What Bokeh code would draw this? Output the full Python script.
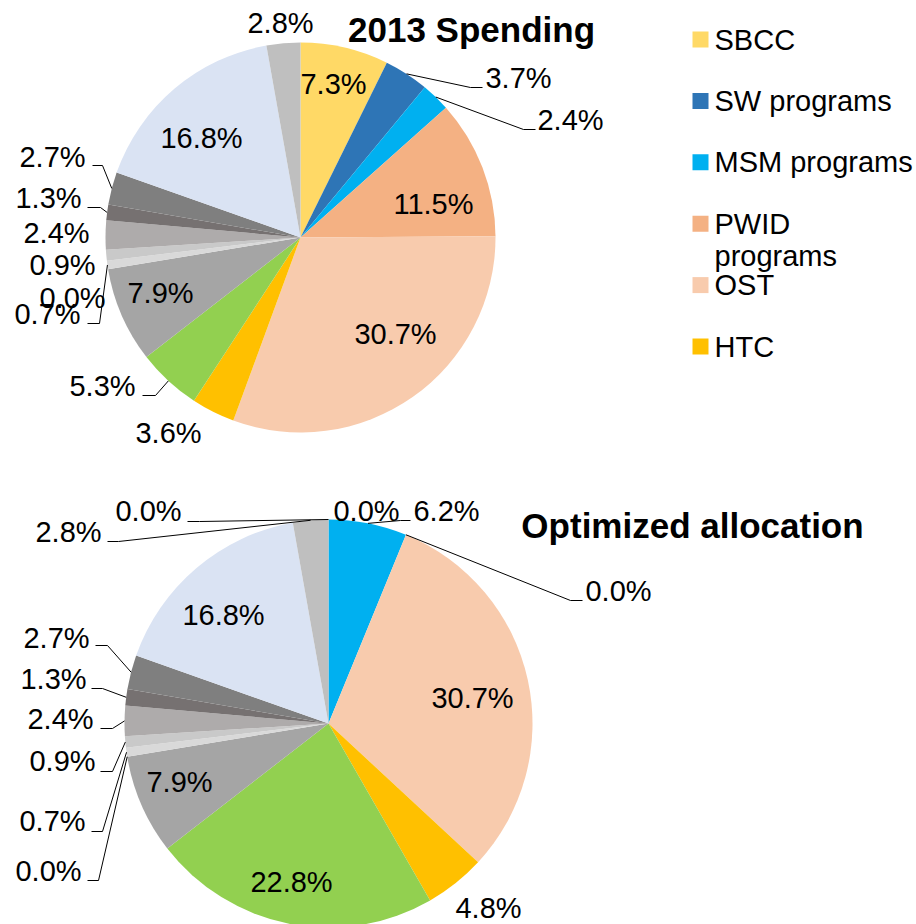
import math
from bokeh.plotting import figure
from bokeh.models import ColumnDataSource, Range1d
from bokeh.core.properties import value
from bokeh.embed import file_html
from bokeh.resources import INLINE

# ---------------- data ----------------
categories = ["SBCC", "SW programs", "MSM programs", "PWID programs", "OST", "HTC",
              "Category 7", "Category 8", "Category 9", "Category 10", "Category 11",
              "Category 12", "Category 13", "Category 14", "Category 15", "Category 16"]
spend_2013 = [7.3, 3.7, 2.4, 11.5, 30.7, 3.6, 5.3, 7.9, 0.0, 0.7, 0.9, 2.4, 1.3, 2.7, 16.8, 2.8]
optimized = [0.0, 0.0, 6.2, 0.0, 30.7, 4.8, 22.8, 7.9, 0.0, 0.7, 0.9, 2.4, 1.3, 2.7, 16.8, 2.8]
slice_colors = ["#FFD966", "#2E75B6", "#00B0F0", "#F4B183", "#F8CBAD", "#FFC000",
                "#92D050", "#A5A5A5", "#E7E6E6", "#D9D9D9", "#C9C9C9", "#AEABAB",
                "#767171", "#7F7F7F", "#DAE3F3", "#BFBFBF"]
titles = ["2013 Spending", "Optimized allocation"]
legend_count = 6

# ---------------- layout (image pixel coordinates) ----------------
W, H = 916, 924
FONT = "Liberation Sans"
LABEL_SIZE = "29px"
TITLE_SIZE = "35px"


def U(Y):
    return H - Y


# label centre per slice, and leader (label end, elbow) per slice index
pie1 = dict(cx=300, cy=237, r=195,
            labels=[(333, 83), (518, 77), (570, 119), (433, 203), (395, 333), (168, 432),
                    (102, 385), (160, 292), (72, 297), (47, 313), (62, 264), (56, 232),
                    (48, 197), (52, 156), (201, 137), (280, 22)],
            leaders={1: ((482, 87), (470, 87)), 2: ((535, 129), (523, 129)),
                     6: ((142, 395), (155, 395)), 9: ((87, 323), (99, 323)),
                     12: ((87, 207), (100, 207)), 13: ((92, 165), (102, 165))},
            title=(471, 29))
pie2 = dict(cx=328, cy=723, r=204,
            labels=[(148, 510), (366, 510), (446, 510), (618, 590), (472, 697), (488, 907),
                    (291, 881), (179, 781), (48, 870), (52, 820), (62, 760), (60, 718),
                    (53, 678), (56, 637), (223, 614), (68, 531)],
            leaders={0: ((187, 521), (199, 521)), 2: ((410, 520), (400, 520)),
                     3: ((582, 600), (570, 600)), 8: ((87, 880), (98, 880)),
                     9: ((91, 831), (102, 831)), 10: ((100, 771), (112, 771)),
                     11: ((100, 728), (112, 728)), 12: ((91, 688), (102, 688)),
                     13: ((95, 645), (107, 645)), 15: ((107, 541), (118, 541))},
            title=(692, 525))

p = figure(width=W, height=H, x_range=Range1d(0, W), y_range=Range1d(0, H),
           output_backend="svg", toolbar_location=None, min_border=0,
           x_axis_type=None, y_axis_type=None)
p.grid.visible = False
p.outline_line_color = None
p.background_fill_color = "white"
p.border_fill_color = "white"


def draw_pie(values, spec, title):
    total = float(sum(values))
    cx, cy, r = spec["cx"], spec["cy"], spec["r"]
    cum = 0.0
    mids = []
    src = dict(start=[], end=[], color=[])
    for v, col in zip(values, slice_colors):
        c0 = cum / total
        cum += v
        c1 = cum / total
        mids.append((c0 + c1) / 2)
        if v > 0:
            src["start"].append(math.pi / 2 - 2 * math.pi * c1)
            src["end"].append(math.pi / 2 - 2 * math.pi * c0)
            src["color"].append(col)
    p.wedge(x=cx, y=U(cy), radius=r, start_angle="start", end_angle="end",
            fill_color="color", line_color=None, source=ColumnDataSource(src))

    # leader lines
    xs, ys = [], []
    for i, (end, elbow) in spec["leaders"].items():
        th = 2 * math.pi * mids[i]
        sx = cx + r * math.sin(th)
        sy = cy - r * math.cos(th)
        xs.append([end[0], elbow[0], sx])
        ys.append([U(end[1]), U(elbow[1]), U(sy)])
    p.multi_line(xs=xs, ys=ys, line_color="black", line_width=1)

    # data labels
    texts = [f"{v:.1f}%" for v in values]
    p.text(x=[l[0] for l in spec["labels"]], y=[U(l[1]) for l in spec["labels"]],
           text=texts, text_font=value(FONT), text_font_size=LABEL_SIZE,
           text_align="center", text_baseline="middle", text_color="black")

    # title
    p.text(x=[spec["title"][0]], y=[U(spec["title"][1])], text=[title],
           text_font=value(FONT), text_font_size=TITLE_SIZE, text_font_style="bold",
           text_align="center", text_baseline="middle", text_color="black")


draw_pie(spend_2013, pie1, titles[0])
draw_pie(optimized, pie2, titles[1])

# legend (only the first entries fit in the reference)
leg_y = [39 + i * 61.4 for i in range(legend_count)]
p.rect(x=[700] * legend_count, y=[U(y) for y in leg_y], width=16, height=16,
       fill_color=slice_colors[:legend_count], line_color=None)
lx, ly, lt = [], [], []
for name, y in zip(categories[:legend_count], leg_y):
    parts = name.split(" ") if len(name) > 12 else [name]
    for k, part in enumerate(parts):
        lx.append(714)
        ly.append(U(y + k * 32))
        lt.append(part)
p.text(x=lx, y=ly, text=lt, text_font=value(FONT), text_font_size=LABEL_SIZE,
       text_align="left", text_baseline="middle", text_color="black")

open("out.html", "w").write(file_html(p, INLINE))
